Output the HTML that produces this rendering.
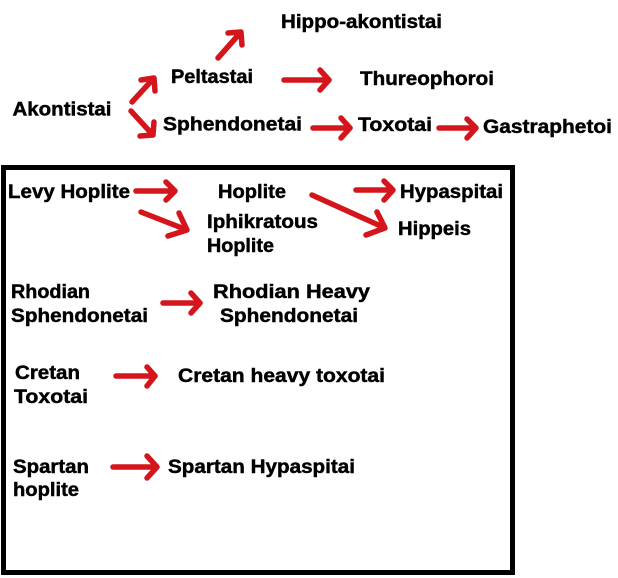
<!DOCTYPE html>
<html>
<head>
<meta charset="utf-8">
<style>
html,body{margin:0;padding:0;background:#fff;}
svg{display:block;}
text{font-family:"Liberation Sans",Arial,sans-serif;font-weight:bold;font-size:19px;fill:#000;stroke:#000;stroke-width:0.45;}
.a{stroke:#d4161c;stroke-width:5.5;fill:none;stroke-linecap:round;stroke-linejoin:round;}
</style>
</head>
<body>
<svg width="618" height="578" viewBox="0 0 618 578" xmlns="http://www.w3.org/2000/svg">
<rect x="0" y="0" width="618" height="578" fill="#fff"/>

<!-- top section texts -->
<text x="281" y="28" textLength="161" lengthAdjust="spacingAndGlyphs">Hippo-akontistai</text>
<text x="171" y="83" textLength="82" lengthAdjust="spacingAndGlyphs">Peltastai</text>
<text x="360" y="85" textLength="134" lengthAdjust="spacingAndGlyphs">Thureophoroi</text>
<text x="12.5" y="115.5" textLength="99" lengthAdjust="spacingAndGlyphs">Akontistai</text>
<text x="163" y="130.5" textLength="139" lengthAdjust="spacingAndGlyphs">Sphendonetai</text>
<text x="358" y="131" textLength="74" lengthAdjust="spacingAndGlyphs">Toxotai</text>
<text x="483" y="133" textLength="129" lengthAdjust="spacingAndGlyphs">Gastraphetoi</text>

<!-- top arrows -->
<path class="a" d="M132 102 L154 78 M141 80 L154 78 L155 91"/>
<path class="a" d="M131 111 L153 135 M140 136 L153 135 L154 122"/>
<path class="a" d="M218 58 L241 32 M228 33 L241 32 L242 45"/>
<path class="a" d="M284 80 L329 80 M320 70 L329 80 L320 90"/>
<path class="a" d="M313 128 L350 128 M341 118 L350 128 L341 138"/>
<path class="a" d="M439 128 L476 128 M467 119 L476 128 L467 138"/>

<!-- box -->
<rect x="3.5" y="167.5" width="509" height="405" fill="none" stroke="#000" stroke-width="5"/>

<!-- box texts -->
<text x="8" y="198" textLength="122" lengthAdjust="spacingAndGlyphs">Levy Hoplite</text>
<text x="218" y="198" textLength="68" lengthAdjust="spacingAndGlyphs">Hoplite</text>
<text x="400" y="198" textLength="103" lengthAdjust="spacingAndGlyphs">Hypaspitai</text>
<text x="207" y="228" textLength="111" lengthAdjust="spacingAndGlyphs">Iphikratous</text>
<text x="207" y="252" textLength="67" lengthAdjust="spacingAndGlyphs">Hoplite</text>
<text x="398" y="235" textLength="73" lengthAdjust="spacingAndGlyphs">Hippeis</text>

<text x="11" y="298" textLength="79" lengthAdjust="spacingAndGlyphs">Rhodian</text>
<text x="11" y="322" textLength="137" lengthAdjust="spacingAndGlyphs">Sphendonetai</text>
<text x="213" y="298" textLength="157" lengthAdjust="spacingAndGlyphs">Rhodian Heavy</text>
<text x="220" y="322" textLength="138" lengthAdjust="spacingAndGlyphs">Sphendonetai</text>

<text x="15" y="379" textLength="65" lengthAdjust="spacingAndGlyphs">Cretan</text>
<text x="14" y="403" textLength="74" lengthAdjust="spacingAndGlyphs">Toxotai</text>
<text x="178" y="382" textLength="207" lengthAdjust="spacingAndGlyphs">Cretan heavy toxotai</text>

<text x="13" y="473" textLength="76" lengthAdjust="spacingAndGlyphs">Spartan</text>
<text x="13" y="496" textLength="66" lengthAdjust="spacingAndGlyphs">hoplite</text>
<text x="168" y="473" textLength="187" lengthAdjust="spacingAndGlyphs">Spartan Hypaspitai</text>

<!-- box arrows -->
<path class="a" d="M136 191 L175 191 M166 182 L175 191 L166 200"/>
<path class="a" d="M141 212 L187 230 M179 213 L187 230 L168 236"/>
<path class="a" d="M356 190 L393 190 M384 181 L393 190 L384 200"/>
<path class="a" d="M312 195 L385 228 M377 212 L385 228 L366 235"/>
<path class="a" d="M163 303 L200 303 M191 293 L200 303 L191 313"/>
<path class="a" d="M116 376 L155 376 M147 367 L155 376 L147 386"/>
<path class="a" d="M113 467 L157 467 M147 456 L157 467 L147 478"/>
</svg>
</body>
</html>
